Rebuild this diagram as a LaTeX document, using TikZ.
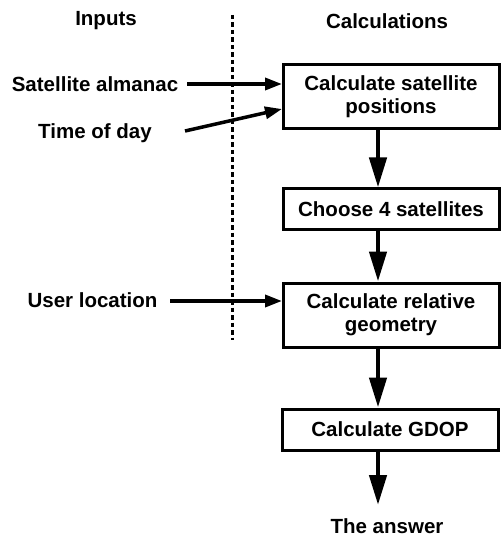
\documentclass[tikz,border=0pt]{standalone}
\usepackage{fontspec}
\setmainfont{Liberation Sans}
\usetikzlibrary{arrows.meta,calc}
\begin{document}
\begin{tikzpicture}[x=1pt,y=-1pt,
  txt/.style={font=\fontsize{20.5}{23}\selectfont\bfseries, inner sep=0pt, align=center},
  calcbox/.style={txt, draw, line width=3pt, minimum width=216pt},
  mainarrow/.style={line width=4.5pt, -{Triangle[length=30pt,width=17pt]}},
  inarrow/.style={line width=3.5pt, -{Triangle[length=17pt,width=12pt]}},
  divider/.style={line width=3pt, dash pattern=on 4.5pt off 3pt}]
\useasboundingbox (0,0) rectangle (501,537);
% headers
\node[txt] (hin) at (106,21) {Inputs};
\node[txt] (hcalc) at (387,21) {Calculations};
% divider
\coordinate (d0) at (232,15);
\coordinate (d1) at (232,340);
\draw[divider] (d0) -- (d1);
% boxes
\node[calcbox, minimum height=64pt] (b1) at (391,97) {Calculate satellite\\positions};
\node[calcbox, minimum height=40pt] (b2) at (391,209) {Choose 4 satellites};
\node[calcbox, minimum height=64pt] (b3) at (391,315) {Calculate relative\\geometry};
\node[calcbox, minimum height=41pt] (b4) at (390,429.5) {Calculate GDOP};
\node[txt] (ans) at (387,526) {The answer};
% inputs
\node[txt] (sa) at (95,84) {Satellite almanac};
\node[txt] (td) at (95,133) {Time of day};
\node[txt] (ul) at (92.5,300) {User location};
\coordinate (sa0) at (187,84);
\coordinate (sa1) at (282,84);
\coordinate (td0) at (185,131);
\coordinate (td1) at (282,109);
\coordinate (ul0) at (170,301);
\coordinate (ul1) at (282,301);
\draw[inarrow] (sa0) -- (sa1);
\draw[inarrow] (td0) -- (td1);
\draw[inarrow] (ul0) -- (ul1);
% main flow
\coordinate (ax) at (378,0);
\draw[mainarrow] (b1.south -| ax) -- (b2.north -| ax);
\draw[mainarrow] (b2.south -| ax) -- (b3.north -| ax);
\draw[mainarrow] (b3.south -| ax) -- (b4.north -| ax);
\coordinate (ansTop) at (378,505);
\draw[mainarrow] (b4.south -| ax) -- (ansTop);
\end{tikzpicture}
\end{document}
